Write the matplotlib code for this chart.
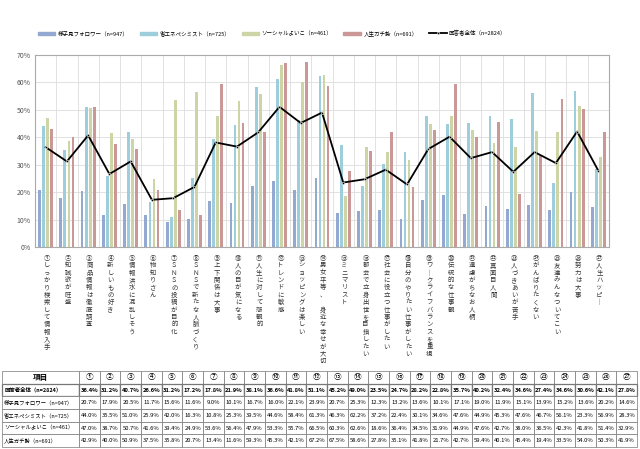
import numpy as np
import matplotlib
matplotlib.use('Agg')
import matplotlib.pyplot as plt
from matplotlib.patches import Patch
from matplotlib.lines import Line2D

plt.rcParams['font.family'] = ['Noto Sans CJK JP', 'DejaVu Sans']

# --- data ---
categories = ['①しっかり検索して情報入手', '②知識欲が旺盛', '③商品情報は徹底調査', '④新しいもの好き',
              '⑤情報洪水に混乱しそう', '⑥物知りさん', '⑦ＳＮＳの投稿が目的化', '⑧ＳＮＳで新たな人脈づくり',
              '⑨上下関係は大事', '⑩人の目が気になる', '⑪人生に対して悲観的', '⑫トレンドに敏感',
              '⑬ショッピングは楽しい', '⑭男女平等、 身近な幸せが大切', '⑮ミニマリスト',
              '⑯都会で立身出世を目指したい', '⑰社会に役立つ仕事がしたい', '⑱自分のやりたい仕事がしたい',
              '⑲ワークライフバランスを重視', '⑳伝統的な仕事観', '㉑遠慮がちなお人柄', '㉒真面目人間',
              '㉓人づきあいが苦手', '㉔がんばりたくない', '㉕友達みんなついてこい', '㉖努力は大事',
              '㉗人生ハッピー']
col_heads = ['①', '②', '③', '④', '⑤', '⑥', '⑦', '⑧', '⑨', '⑩', '⑪', '⑫', '⑬', '⑭',
             '⑮', '⑯', '⑰', '⑱', '⑲', '⑳', '㉑', '㉒', '㉓', '㉔', '㉕', '㉖', '㉗']

total = [36.4, 31.2, 40.7, 26.6, 31.2, 17.2, 17.8, 21.9, 38.1, 36.6, 41.8, 51.1, 45.2, 49.0,
         23.5, 24.7, 28.2, 22.8, 35.7, 40.2, 32.4, 34.6, 27.4, 34.6, 30.6, 42.1, 27.8]
follower = [20.7, 17.9, 20.5, 11.7, 15.6, 11.6, 9.0, 10.1, 16.7, 16.0, 22.1, 23.9, 20.7, 25.3,
            12.3, 13.2, 13.6, 10.1, 17.1, 19.0, 11.9, 15.1, 13.9, 15.2, 13.6, 20.2, 14.6]
pessimist = [44.0, 35.5, 51.0, 25.9, 42.0, 16.3, 10.8, 25.3, 39.5, 44.6, 58.4, 61.3, 46.3, 62.2,
             37.2, 22.4, 30.1, 34.6, 47.6, 44.9, 45.3, 47.6, 46.7, 56.1, 23.3, 56.9, 28.3]
social = [47.0, 38.7, 50.7, 41.6, 39.4, 24.9, 53.6, 56.4, 47.9, 53.3, 55.7, 66.5, 60.3, 62.6,
          18.6, 36.4, 34.5, 31.9, 44.9, 47.6, 42.7, 38.0, 36.5, 42.3, 41.8, 51.4, 32.9]
gachi = [42.9, 40.0, 50.9, 37.5, 35.8, 20.7, 13.4, 11.6, 59.3, 45.3, 42.1, 67.2, 67.5, 58.6,
         27.8, 35.1, 41.8, 21.7, 42.7, 59.4, 40.1, 45.4, 19.4, 33.5, 54.0, 50.3, 41.9]

series_names = ['様子見フォロワー（n=947）', '省エネペシミスト（n=725）',
                'ソーシャルよいこ（n=461）', '人生ガチ勢（n=691）']
total_name = '回答者全体（n=2824）'
series = [follower, pessimist, social, gachi]
colors = ['#93A9D1', '#9ECDDB', '#CDD5A6', '#C99897']

fig = plt.figure(figsize=(6.4, 4.49), dpi=100)
ax = fig.add_axes([35/640, 1-247/449, (609-35)/640, (247-55)/449])

x = np.arange(len(categories))
w = 0.13
step = 0.19
for k, (vals, c) in enumerate(zip(series, colors)):
    ax.bar(x + (k - 1.5)*step, vals, width=w, color=c, zorder=2)
ax.plot(x, total, color='black', lw=1.3, marker='o', ms=1.8, mfc='black',
        mec='white', mew=0.4, zorder=3)

ax.set_xlim(-0.5, len(categories) - 0.5)
ax.set_ylim(0, 70)
ax.set_yticks(range(0, 71, 10))
ax.set_yticklabels([f'{v}%' for v in range(0, 71, 10)], fontsize=5, color='#555555')
ax.set_xticks(np.arange(-0.5, len(categories), 1), minor=False)
ax.set_xticklabels([])
ax.tick_params(axis='both', length=0, pad=3)
ax.grid(True, color='#dddddd', lw=0.6, zorder=0)
for s in ax.spines.values():
    s.set_color('#aaaaaa')
    s.set_linewidth(0.8)

# vertical category labels
for i, lab in enumerate(categories):
    txt = '\n'.join(lab.replace('ー', '｜'))
    ax.text(i + 0.05, -0.035, txt, transform=ax.get_xaxis_transform(), ha='center', va='top',
            fontsize=4.6, linespacing=0.9, color='#333333')

# legend
handles = [Patch(color=c) for c in colors] + [Line2D([], [], color='black', lw=1.3, marker='o',
                                                     ms=1.8, mec='white', mew=0.4)]
fig.legend(handles, series_names + [total_name], loc='center', bbox_to_anchor=(0.425, 0.926),
           ncol=5, frameon=False, fontsize=4.0, handlelength=3.2, handleheight=0.5,
           columnspacing=2.0, handletextpad=0.4)

# table
tax = fig.add_axes([0, 0, 1, 1])
tax.axis('off')
rows = [[total_name] + [f'{v:.1f}%' for v in total]]
for nm, vals in zip(series_names, series):
    rows.append([nm] + [f'{v:.1f}%' for v in vals])
cw = [77] + [(635 - 77)/27]*27
tbl = tax.table(cellText=rows, colLabels=['項目'] + col_heads, colWidths=cw,
                cellLoc='center', bbox=[2/640, 2/449, 635/640, 76/449])
tbl.auto_set_font_size(False)
tbl.set_fontsize(4.2)
for (r, c), cell in tbl.get_celld().items():
    cell.set_edgecolor('#777777')
    cell.set_linewidth(0.5)
    cell.PAD = 0.03
    if r == 0:
        cell.get_text().set_fontsize(5.5)
        if c == 0:
            cell.get_text().set_fontweight('bold')
    if r == 1:
        cell.get_text().set_fontweight('bold')
        cell.set_linewidth(0.9)
    if c == 0 and r >= 1:
        cell.get_text().set_ha('left')
        cell.get_text().set_fontsize(3.9)
        cell._loc = 'left'

fig.savefig('out.png', dpi=100)
